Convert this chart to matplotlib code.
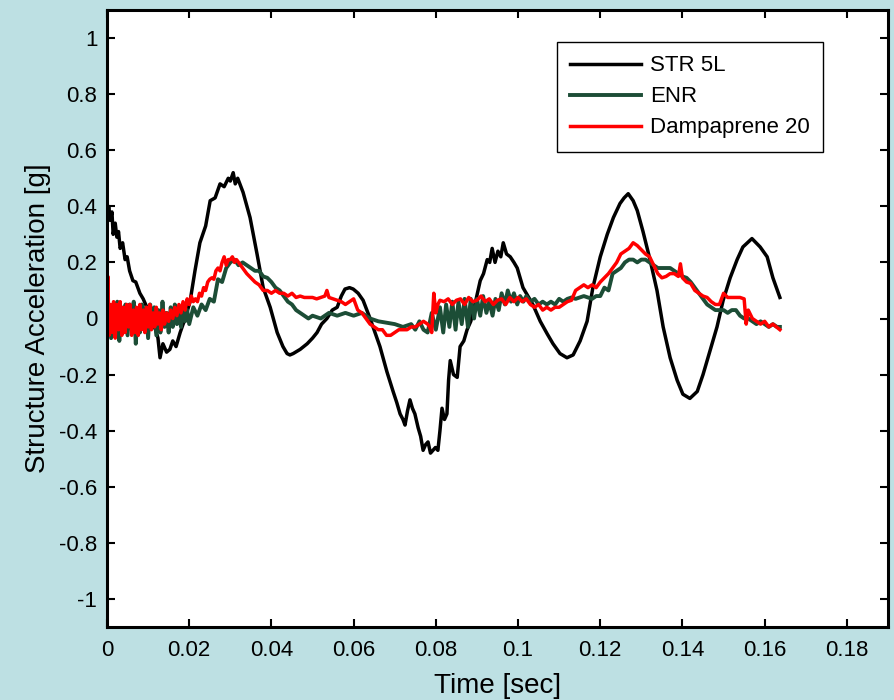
import numpy as np
import matplotlib
matplotlib.use("Agg")
import matplotlib.pyplot as plt

plt.rcParams['font.family'] = ['Liberation Sans', 'DejaVu Sans']

# STR 5L - aceleracion de la estructura [g] contra tiempo [s]
t_str = [0, 0.0004, 0.0008, 0.0012, 0.0015, 0.0020, 0.0024, 0.0028, 0.0032, 0.0038,
         0.0044, 0.0049, 0.0055, 0.0063, 0.0070, 0.0080, 0.0088, 0.0097, 0.0105, 0.0112,
         0.0118, 0.0124, 0.0129, 0.0136, 0.0145, 0.0153, 0.0160, 0.0168, 0.0178, 0.0190,
         0.0202, 0.0214, 0.0226, 0.0240, 0.0251, 0.0263, 0.0275, 0.0285, 0.0295, 0.0300,
         0.0307, 0.0312, 0.0318, 0.0331, 0.0348, 0.0365, 0.0380, 0.0397, 0.0414, 0.0428,
         0.0438, 0.0445, 0.0453, 0.0470, 0.0487, 0.0500, 0.0511, 0.0522, 0.0535, 0.0548,
         0.0560, 0.0570, 0.0579, 0.0590, 0.0599, 0.0611, 0.0623, 0.0640, 0.0652, 0.0664,
         0.0681, 0.0696, 0.0705, 0.0713, 0.0720, 0.0725, 0.0731, 0.0737, 0.0743, 0.0749,
         0.0757, 0.0763, 0.0769, 0.0775, 0.0781, 0.0787, 0.0793, 0.0799, 0.0805, 0.0810,
         0.0815, 0.0821, 0.0827, 0.0831, 0.0835, 0.0843, 0.0852, 0.0859, 0.0868, 0.0876,
         0.0885, 0.0895, 0.0908, 0.0916, 0.0925, 0.0931, 0.0937, 0.0944, 0.0951, 0.0958,
         0.0964, 0.0972, 0.0981, 0.0990, 0.0998, 0.1012, 0.1024, 0.1036, 0.1054, 0.1071,
         0.1085, 0.1102, 0.1119, 0.1134, 0.1151, 0.1168, 0.1182, 0.1200, 0.1217, 0.1232,
         0.1248, 0.1258, 0.1268, 0.1280, 0.1290, 0.1304, 0.1321, 0.1338, 0.1353, 0.1370,
         0.1387, 0.1401, 0.1418, 0.1436, 0.1450, 0.1467, 0.1484, 0.1499, 0.1516, 0.1533,
         0.1547, 0.1558, 0.1569, 0.1579, 0.1589, 0.1606, 0.1620, 0.1637]
a_str = [0.33, 0.40, 0.35, 0.38, 0.30, 0.34, 0.29, 0.31, 0.25, 0.27,
         0.21, 0.22, 0.17, 0.135, 0.13, 0.09, 0.07, 0.04, 0.02, -0.02,
         -0.04, -0.07, -0.14, -0.09, -0.12, -0.11, -0.08, -0.10, -0.05, 0.0,
         0.06, 0.17, 0.27, 0.33, 0.42, 0.43, 0.48, 0.47, 0.50, 0.49,
         0.52, 0.48, 0.50, 0.45, 0.36, 0.23, 0.11, 0.04, -0.05, -0.10,
         -0.125, -0.13, -0.125, -0.11, -0.09, -0.07, -0.05, -0.02, 0.0, 0.03,
         0.04, 0.08, 0.105, 0.11, 0.105, 0.09, 0.065, 0.0, -0.05, -0.10,
         -0.19, -0.26, -0.30, -0.34, -0.36, -0.38, -0.33, -0.29, -0.32, -0.34,
         -0.39, -0.42, -0.47, -0.45, -0.44, -0.48, -0.47, -0.46, -0.47, -0.40,
         -0.32, -0.36, -0.34, -0.22, -0.15, -0.20, -0.21, -0.10, -0.08, -0.04,
         -0.01, 0.05, 0.135, 0.16, 0.21, 0.20, 0.25, 0.20, 0.24, 0.22,
         0.27, 0.23, 0.22, 0.20, 0.18, 0.11, 0.08, 0.05, -0.01, -0.055,
         -0.09, -0.125, -0.14, -0.13, -0.08, -0.01, 0.11, 0.22, 0.30, 0.36,
         0.41, 0.43, 0.445, 0.42, 0.385, 0.31, 0.21, 0.10, -0.03, -0.14,
         -0.22, -0.27, -0.285, -0.26, -0.20, -0.115, -0.03, 0.065, 0.145, 0.21,
         0.255, 0.27, 0.285, 0.27, 0.255, 0.22, 0.145, 0.075]

# ENR
t_enr = [0, 0.0005, 0.0010, 0.0015, 0.0020, 0.0025, 0.0030, 0.0035, 0.0040, 0.0045,
         0.0050, 0.0055, 0.0060, 0.0065, 0.0070, 0.0075, 0.0080, 0.0085, 0.0090, 0.0095,
         0.0100, 0.0105, 0.0110, 0.0115, 0.0120, 0.0125, 0.0130, 0.0135, 0.0140, 0.0145,
         0.0150, 0.0155, 0.0160, 0.0165, 0.0170, 0.0175, 0.0180, 0.0185, 0.0190, 0.0195,
         0.0200, 0.0210, 0.0220, 0.0230, 0.0240, 0.0250, 0.0260, 0.0270, 0.0280, 0.0290,
         0.0300, 0.0310, 0.0320, 0.0330, 0.0340, 0.0350, 0.0360, 0.0370, 0.0380, 0.0390,
         0.0400, 0.0410, 0.0420, 0.0430, 0.0440, 0.0450, 0.0460, 0.0470, 0.0480, 0.0490,
         0.0500, 0.0520, 0.0540, 0.0560, 0.0580, 0.0600, 0.0620, 0.0640, 0.0660, 0.0680,
         0.0700, 0.0720, 0.0740, 0.0750, 0.0760, 0.0770, 0.0780, 0.0790, 0.0800, 0.0810,
         0.0818, 0.0825, 0.0833, 0.0840, 0.0848, 0.0855, 0.0863, 0.0870, 0.0878, 0.0885,
         0.0893, 0.0900, 0.0908, 0.0915, 0.0923, 0.0930, 0.0938, 0.0945, 0.0953, 0.0960,
         0.0968, 0.0975, 0.0983, 0.0990, 0.0998, 0.1005, 0.1013, 0.1020, 0.1030, 0.1040,
         0.1050, 0.1060, 0.1070, 0.1080, 0.1090, 0.1100, 0.1110, 0.1120, 0.1130, 0.1140,
         0.1150, 0.1160, 0.1170, 0.1180, 0.1190, 0.1200, 0.1210, 0.1220, 0.1230, 0.1240,
         0.1250, 0.1260, 0.1270, 0.1280, 0.1290, 0.1300, 0.1310, 0.1320, 0.1330, 0.1340,
         0.1350, 0.1360, 0.1370, 0.1380, 0.1390, 0.1400, 0.1410, 0.1420, 0.1430, 0.1440,
         0.1450, 0.1460, 0.1470, 0.1480, 0.1490, 0.1500, 0.1510, 0.1520, 0.1530, 0.1540,
         0.1550, 0.1560, 0.1570, 0.1580, 0.1590, 0.1600, 0.1610, 0.1620, 0.1630, 0.1637]
a_enr = [0.0, 0.04, -0.07, 0.05, -0.05, 0.06, -0.08, 0.04, -0.03, 0.05,
         -0.06, 0.05, -0.04, 0.06, -0.09, 0.03, -0.05, 0.05, -0.03, 0.04,
         -0.07, 0.05, -0.02, 0.04, -0.06, 0.03, -0.05, 0.06, -0.03, 0.02,
         -0.05, 0.04, -0.03, 0.05, -0.02, 0.03, -0.03, 0.04, -0.01, 0.03,
         -0.02, 0.04, 0.01, 0.05, 0.03, 0.07, 0.06, 0.14, 0.13, 0.18,
         0.20, 0.21, 0.19, 0.20, 0.19, 0.18, 0.17, 0.17, 0.15, 0.145,
         0.13, 0.11, 0.10, 0.08, 0.06, 0.05, 0.03, 0.02, 0.01, 0.0,
         0.01, 0.0, 0.02, 0.01, 0.02, 0.01, 0.02, 0.0, -0.01, -0.015,
         -0.02, -0.03, -0.02, -0.04, -0.01, -0.04, -0.05, 0.02, -0.04, 0.04,
         -0.05, 0.05, -0.03, 0.06, -0.04, 0.06, -0.02, 0.07, -0.03, 0.07,
         0.0, 0.07, 0.01, 0.08, 0.02, 0.06, 0.01, 0.07, 0.03, 0.09,
         0.05, 0.10, 0.06, 0.09, 0.05, 0.08, 0.06, 0.08, 0.06, 0.07,
         0.05, 0.06, 0.05, 0.06, 0.05, 0.07, 0.06, 0.07, 0.075, 0.07,
         0.075, 0.08, 0.075, 0.07, 0.08, 0.08, 0.11, 0.10, 0.16, 0.17,
         0.18, 0.20, 0.21, 0.21, 0.20, 0.21, 0.21, 0.20, 0.19, 0.18,
         0.18, 0.18, 0.18, 0.17, 0.16, 0.15, 0.145, 0.13, 0.11, 0.09,
         0.07, 0.05, 0.04, 0.03, 0.03, 0.03, 0.02, 0.03, 0.03, 0.01,
         0.0, 0.0, -0.01, -0.02, -0.01, -0.02, -0.03, -0.02, -0.03, -0.03]

# Dampaprene 20
t_dmp = [0, 0.0002, 0.0005, 0.0008, 0.0012, 0.0016, 0.0020, 0.0024, 0.0028, 0.0032,
         0.0036, 0.0040, 0.0044, 0.0048, 0.0052, 0.0056, 0.0060, 0.0064, 0.0068, 0.0072,
         0.0076, 0.0080, 0.0084, 0.0088, 0.0092, 0.0096, 0.0100, 0.0104, 0.0108, 0.0112,
         0.0116, 0.0120, 0.0124, 0.0128, 0.0132, 0.0136, 0.0140, 0.0145, 0.0150, 0.0155,
         0.0160, 0.0165, 0.0170, 0.0175, 0.0180, 0.0185, 0.0190, 0.0195, 0.0200, 0.0205,
         0.0210, 0.0215, 0.0220, 0.0225, 0.0230, 0.0235, 0.0240, 0.0245, 0.0250, 0.0255,
         0.0260, 0.0265, 0.0270, 0.0275, 0.0280, 0.0285, 0.0290, 0.0295, 0.0300, 0.0305,
         0.0310, 0.0315, 0.0320, 0.0330, 0.0340, 0.0350, 0.0360, 0.0370, 0.0380, 0.0390,
         0.0400, 0.0410, 0.0420, 0.0430, 0.0440, 0.0450, 0.0460, 0.0470, 0.0480, 0.0490,
         0.0500, 0.0510, 0.0520, 0.0530, 0.0535, 0.0540, 0.0550, 0.0560, 0.0570, 0.0580,
         0.0590, 0.0600, 0.0610, 0.0620, 0.0630, 0.0640, 0.0650, 0.0660, 0.0670, 0.0680,
         0.0690, 0.0700, 0.0710, 0.0720, 0.0730, 0.0740, 0.0750, 0.0760, 0.0770, 0.0780,
         0.0785, 0.0790, 0.0795, 0.0800, 0.0805, 0.0810, 0.0820, 0.0830, 0.0840, 0.0850,
         0.0860, 0.0870, 0.0880, 0.0890, 0.0900, 0.0910, 0.0920, 0.0930, 0.0940, 0.0950,
         0.0960, 0.0970, 0.0980, 0.0990, 0.1000, 0.1010, 0.1020, 0.1030, 0.1040, 0.1050,
         0.1060, 0.1070, 0.1080, 0.1090, 0.1100, 0.1110, 0.1120, 0.1130, 0.1140, 0.1150,
         0.1160, 0.1170, 0.1180, 0.1190, 0.1200, 0.1210, 0.1220, 0.1230, 0.1240, 0.1250,
         0.1260, 0.1270, 0.1280, 0.1290, 0.1300, 0.1310, 0.1320, 0.1330, 0.1340, 0.1350,
         0.1360, 0.1370, 0.1380, 0.1390, 0.1395, 0.1400, 0.1410, 0.1420, 0.1430, 0.1440,
         0.1450, 0.1460, 0.1470, 0.1480, 0.1490, 0.1500, 0.1510, 0.1520, 0.1530, 0.1540,
         0.1550, 0.1555, 0.1560, 0.1570, 0.1580, 0.1590, 0.1600, 0.1610, 0.1620, 0.1637]
a_dmp = [-0.09, 0.15, -0.06, 0.05, -0.05, 0.06, -0.07, 0.05, -0.04, 0.06,
         -0.06, 0.04, -0.05, 0.05, -0.03, 0.05, -0.06, 0.03, -0.05, 0.04,
         -0.06, 0.05, -0.04, 0.03, -0.05, 0.04, -0.03, 0.05, -0.04, 0.02,
         -0.03, 0.04, -0.02, 0.02, -0.04, 0.03, -0.02, 0.02, -0.01, 0.03,
         0.0, 0.04, 0.01, 0.05, 0.02, 0.06, 0.03, 0.07, 0.05, 0.08,
         0.06, 0.07, 0.06, 0.09, 0.08, 0.11, 0.10, 0.13, 0.14, 0.145,
         0.14, 0.17, 0.18, 0.17, 0.20, 0.22, 0.19, 0.21, 0.21, 0.22,
         0.20, 0.21, 0.20, 0.18, 0.16, 0.145, 0.13, 0.12, 0.10, 0.10,
         0.09, 0.10, 0.09, 0.09, 0.08, 0.09, 0.075, 0.08, 0.075, 0.075,
         0.075, 0.07, 0.075, 0.08, 0.10, 0.075, 0.07, 0.065, 0.06, 0.05,
         0.06, 0.07, 0.03, 0.02, 0.0, -0.02, -0.03, -0.04, -0.04, -0.06,
         -0.06, -0.05, -0.04, -0.04, -0.04, -0.03, -0.03, -0.02, -0.01, -0.02,
         -0.03, -0.05, 0.09, 0.02, 0.05, 0.065, 0.06, 0.07, 0.05, 0.065,
         0.07, 0.05, 0.075, 0.06, 0.065, 0.08, 0.06, 0.07, 0.05, 0.065,
         0.07, 0.05, 0.075, 0.06, 0.075, 0.06, 0.07, 0.05, 0.04, 0.05,
         0.03, 0.04, 0.03, 0.04, 0.04, 0.05, 0.06, 0.065, 0.10, 0.11,
         0.12, 0.11, 0.12, 0.11, 0.13, 0.145, 0.16, 0.18, 0.20, 0.23,
         0.24, 0.25, 0.27, 0.26, 0.245, 0.23, 0.22, 0.19, 0.16, 0.145,
         0.15, 0.16, 0.16, 0.15, 0.195, 0.145, 0.13, 0.125, 0.10, 0.09,
         0.08, 0.075, 0.06, 0.05, 0.05, 0.09, 0.075, 0.075, 0.075, 0.075,
         0.07, -0.02, 0.03, 0.0, -0.01, -0.02, -0.01, -0.03, -0.02, -0.04]

x_ticks = [0, 0.02, 0.04, 0.06, 0.08, 0.1, 0.12, 0.14, 0.16, 0.18]
x_tick_labels = ['0', '0.02', '0.04', '0.06', '0.08', '0.1', '0.12', '0.14', '0.16', '0.18']
y_ticks = [-1, -0.8, -0.6, -0.4, -0.2, 0, 0.2, 0.4, 0.6, 0.8, 1]
y_tick_labels = ['-1', '-0.8', '-0.6', '-0.4', '-0.2', '0', '0.2', '0.4', '0.6', '0.8', '1']

fig = plt.figure(figsize=(8.94, 7.0), dpi=100, facecolor='#bde0e3')
ax = fig.add_axes([107/894, 73/700, 781/894, 617/700])
ax.set_facecolor('white')

ax.plot(t_str, a_str, color='black', lw=2.5, label='STR 5L')
ax.plot(t_enr, a_enr, color='#1c4d36', lw=2.8, label='ENR')
ax.plot(t_dmp, a_dmp, color='#ff0000', lw=2.5, label='Dampaprene 20')

ax.set_xlim(0, 0.19)
ax.set_ylim(-1.1, 1.1)
ax.set_xticks(x_ticks)
ax.set_xticklabels(x_tick_labels)
ax.set_yticks(y_ticks)
ax.set_yticklabels(y_tick_labels)
ax.tick_params(direction='in', length=6, width=1.5, labelsize=16, top=True, right=True)
ax.tick_params(axis='x', pad=9)
ax.tick_params(axis='y', pad=7)

for s in ax.spines.values():
    s.set_linewidth(2.2)
    s.set_color('black')

ax.set_xlabel('Time [sec]', fontsize=20, labelpad=9)
ax.set_ylabel('Structure Acceleration [g]', fontsize=20, labelpad=6)

leg = ax.legend(loc='upper right', bbox_to_anchor=(0.917, 0.948), borderaxespad=0,
                fontsize=16, handlelength=3.2, labelspacing=0.45, fancybox=False,
                framealpha=1, edgecolor='black', borderpad=0.6, handletextpad=0.4)
leg.get_frame().set_linewidth(1.0)

fig.savefig('out.png', dpi=100, facecolor=fig.get_facecolor())
